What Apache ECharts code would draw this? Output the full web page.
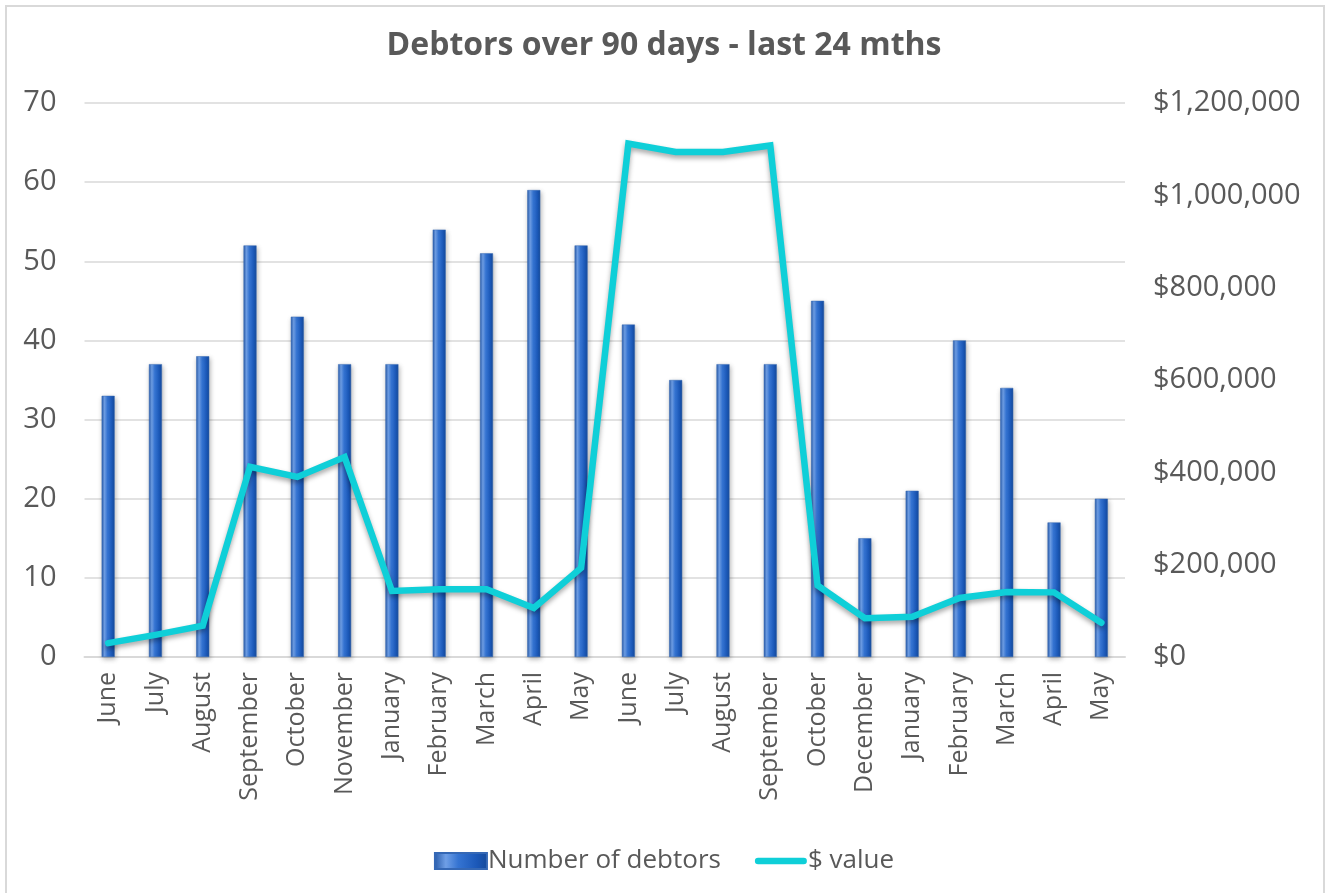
<!DOCTYPE html>
<html>
<head>
<meta charset="utf-8">
<script src="https://cdn.jsdelivr.net/npm/echarts@6/dist/echarts.min.js"></script>
<style>
  html, body { margin: 0; padding: 0; background: #ffffff; }
  #chart { width: 1328px; height: 893px; }
</style>
</head>
<body>
<div id="chart"></div>
<script>
// Month labels for the last 24 months of reporting
const months = ['June', 'July', 'August', 'September', 'October', 'November', 'January',
  'February', 'March', 'April', 'May', 'June', 'July', 'August', 'September', 'October',
  'December', 'January', 'February', 'March', 'April', 'May'];

// Number of debtors over 90 days
const debtorCounts = [33, 37, 38, 52, 43, 37, 37, 54, 51, 59, 52, 42, 35, 37, 37, 45,
  15, 21, 40, 34, 17, 20];

// Dollar value owed by those debtors
const dollarValues = [30000, 48000, 68000, 412000, 390000, 433000, 143000, 147000, 147000,
  106000, 193000, 1112000, 1094000, 1094000, 1108000, 155000, 84000, 87000, 128000,
  141000, 140000, 74000];

// Axis tick values
const countTicks = [0, 10, 20, 30, 40, 50, 60, 70];
const dollarTicks = [0, 200000, 400000, 600000, 800000, 1000000, 1200000];

const textColor = '#595959';
const gridColor = '#d9d9d9';
const lineColor = '#0fcfd8';
const fontFamily = '"Open Sans", "Noto Sans", sans-serif';

const barFill = new echarts.graphic.LinearGradient(0, 0, 1, 0, [
  { offset: 0, color: '#2659a8' },
  { offset: 0.22, color: '#6f9fe6' },
  { offset: 0.45, color: '#3574d2' },
  { offset: 0.8, color: '#1b58b8' },
  { offset: 1, color: '#164a99' }
]);

// Rounded thick stroke used as the legend key for the line series
const lineKey = 'path://M3.5,0 H53.5 A3.5,3.5 0 0 1 53.5,7 H3.5 A3.5,3.5 0 0 1 3.5,0 Z';

const chart = echarts.init(document.getElementById('chart'), null, { renderer: 'canvas' });

const fmtDollar = v => '$' + v.toLocaleString('en-US');

chart.setOption({
  backgroundColor: '#ffffff',
  animation: false,
  textStyle: { fontFamily: fontFamily },
  graphic: [{
    type: 'rect',
    shape: { x: 6, y: 6, width: 1318, height: 890 },
    style: { fill: 'none', stroke: gridColor, lineWidth: 2 },
    silent: true,
    z: -1
  }],
  title: {
    text: 'Debtors over 90 days - last 24 mths',
    left: 'center',
    top: 25,
    textStyle: { color: textColor, fontSize: 32, fontWeight: 'bold', fontFamily: fontFamily }
  },
  legend: {
    bottom: 14,
    left: 'center',
    itemGap: 34,
    itemWidth: 52,
    itemHeight: 16,
    symbolKeepAspect: true,
    textStyle: { color: textColor, fontSize: 26, fontFamily: fontFamily, padding: [0, 0, 0, -4] },
    data: [
      { name: 'Number of debtors', icon: 'rect' },
      { name: '$ value', icon: lineKey, itemStyle: { color: lineColor } }
    ]
  },
  grid: { left: 84.5, right: 203, top: 103, bottom: 236, containLabel: false },
  xAxis: {
    type: 'category',
    data: months,
    axisLine: { lineStyle: { color: gridColor, width: 2 } },
    axisTick: { show: false },
    axisLabel: {
      rotate: 90,
      interval: 0,
      color: textColor,
      fontSize: 25,
      margin: 15,
      fontFamily: fontFamily
    }
  },
  yAxis: [{
    type: 'value',
    min: countTicks[0],
    max: countTicks[countTicks.length - 1],
    interval: 10,
    axisLine: { show: false },
    axisTick: { show: false },
    splitLine: { lineStyle: { color: gridColor, width: 1.5 } },
    axisLabel: { color: textColor, fontSize: 29, margin: 28, fontFamily: fontFamily }
  }, {
    type: 'value',
    min: dollarTicks[0],
    max: dollarTicks[dollarTicks.length - 1],
    interval: 200000,
    axisLine: { show: false },
    axisTick: { show: false },
    splitLine: { show: false },
    axisLabel: { color: textColor, fontSize: 29, margin: 28, fontFamily: fontFamily, formatter: fmtDollar }
  }],
  series: [{
    name: 'Number of debtors',
    type: 'bar',
    yAxisIndex: 0,
    data: debtorCounts,
    barWidth: 13,
    itemStyle: {
      color: barFill,
      borderColor: '#3568b5',
      borderWidth: 0.5,
      shadowColor: 'rgba(0,0,0,0.3)',
      shadowBlur: 5,
      shadowOffsetX: 1,
      shadowOffsetY: 2
    }
  }, {
    name: '$ value',
    type: 'line',
    yAxisIndex: 1,
    data: dollarValues,
    symbol: 'none',
    lineStyle: {
      color: lineColor,
      width: 6.5,
      cap: 'round',
      join: 'miter',
      shadowColor: 'rgba(0,0,0,0.35)',
      shadowBlur: 5,
      shadowOffsetY: 3
    },
    itemStyle: { color: lineColor },
    z: 3
  }]
});
</script>
</body>
</html>
